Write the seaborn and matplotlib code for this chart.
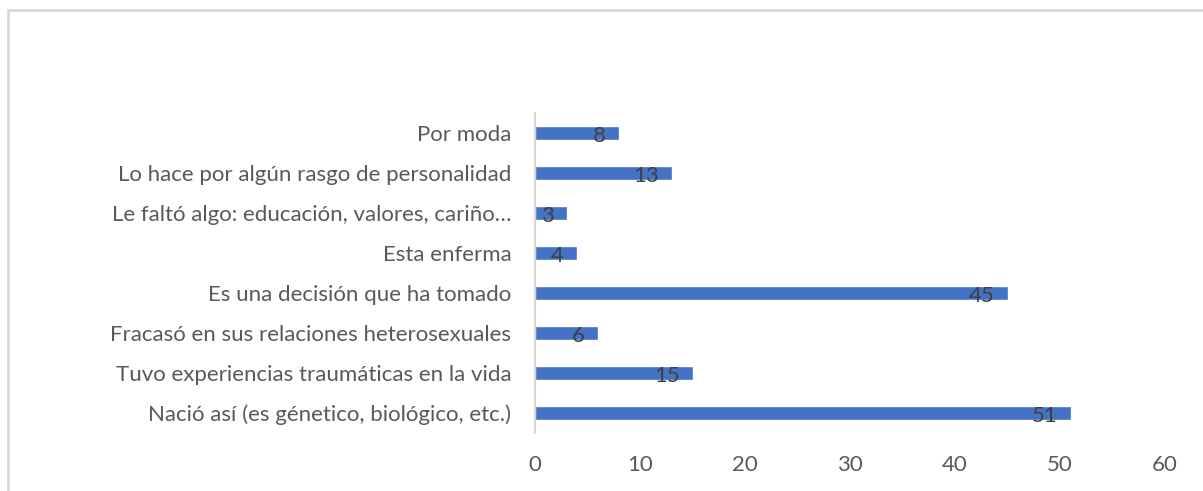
import matplotlib
matplotlib.use("Agg")
import matplotlib.pyplot as plt
from matplotlib.patches import Rectangle
import seaborn as sns
import pandas as pd

categories = [
    "Por moda",
    "Lo hace por algún rasgo de personalidad",
    "Le faltó algo: educación, valores, cariño…",
    "Esta enferma",
    "Es una decisión que ha tomado",
    "Fracasó en sus relaciones heterosexuales",
    "Tuvo experiencias traumáticas en la vida",
    "Nació así (es génetico, biológico, etc.)",
]
values = [8, 13, 3, 4, 45, 6, 15, 51]
x_ticks = [0, 10, 20, 30, 40, 50, 60]

df = pd.DataFrame({"cat": categories, "val": values})

sns.set_theme(style="white")
plt.rcParams["font.family"] = ["Lato", "DejaVu Sans"]

fig = plt.figure(figsize=(12.03, 4.91), dpi=100)
ax = fig.add_axes([535 / 1203, 1 - 433 / 491, 630 / 1203, 320 / 491])

sns.barplot(data=df, y="cat", x="val", color="#4472C4", saturation=1,
            width=0.35, orient="h", ax=ax)

ax.set_xlim(0, 60)
ax.set_xticks(x_ticks)
ax.set_xlabel("")
ax.set_ylabel("")
ax.tick_params(axis="both", length=0, labelsize=16, colors="#595959")
ax.tick_params(axis="x", pad=16)
ax.tick_params(axis="y", pad=17)
for s in ["top", "right", "bottom"]:
    ax.spines[s].set_visible(False)
ax.spines["left"].set_color("#D9D9D9")
ax.spines["left"].set_linewidth(1.5)

for i, v in enumerate(values):
    ax.annotate(str(v), xy=(v, i), xytext=(-13, -3), textcoords="offset pixels",
                ha="right", va="center", fontsize=16, color="#404040")

# chart frame
fig.patches.append(Rectangle((8 / 1203, -0.05), 1.2, 1 - 10 / 491 + 0.05,
                             transform=fig.transFigure, fill=False,
                             edgecolor="#D9D9D9", linewidth=2))

fig.savefig("out.png", dpi=100)
